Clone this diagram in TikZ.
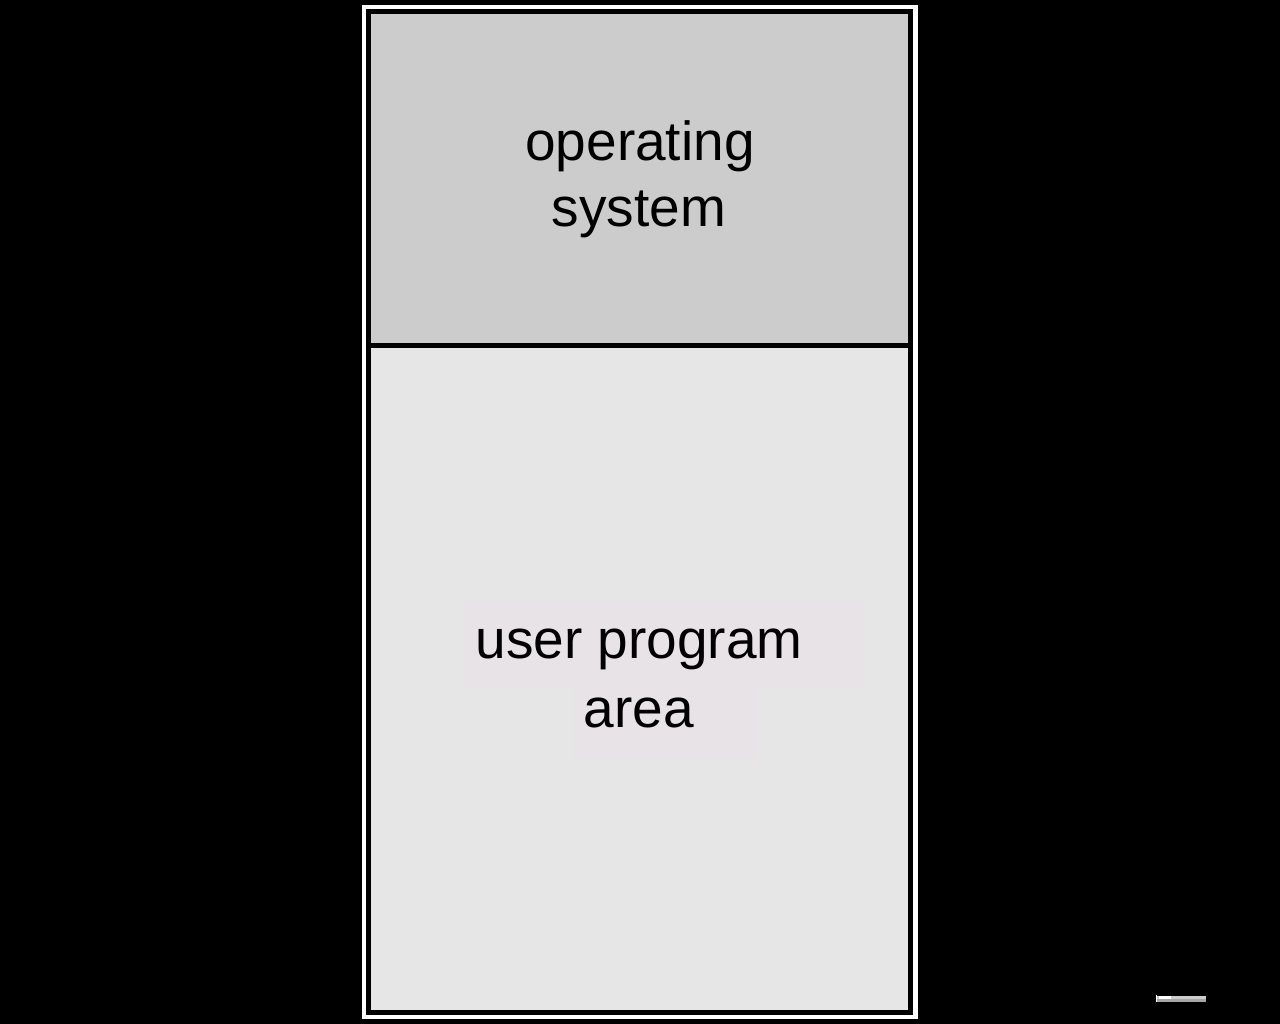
\documentclass[tikz,border=0pt]{standalone}
\usepackage{fontspec}
\setmainfont{Liberation Sans}
\definecolor{osgray}{HTML}{CCCCCC}
\definecolor{usergray}{HTML}{E6E6E6}
\definecolor{patch}{HTML}{E8E3E6}
\begin{document}
\begin{tikzpicture}[x=1pt,y=-1pt,
  region/.style={rectangle,draw=black,line width=5pt,minimum width=542pt,inner sep=0pt,outer sep=0pt},
  lbl/.style={anchor=base,inner sep=0pt,font=\fontsize{55}{66}\selectfont}]
		\fill[black] (0,0) rectangle (1280,1024);
		\useasboundingbox (0,0) rectangle (1280,1024);
		\fill[white] (362,5) rectangle (918,1019);
		\node at (639.5,679) [region, fill=usergray, minimum height=667pt] (U) {};
		\node at (639.5,178.75) [region, fill=osgray, minimum height=333.5pt] (OS) {};
		\fill[patch] (465,600) rectangle (865,689);
		\fill[patch] (574,689) rectangle (758,760);
		\node at (640,161) [lbl] (os1) {operating};
		\node at (639,227) [lbl] (os2) {system};
		\node at (639,658) [lbl] (up1) {user program};
		\node at (639,727) [lbl] (up2) {area};
		\fill[gray!40] (1157,996) rectangle (1206,999);
		\fill[gray!70] (1157,999) rectangle (1206,1002);
		\fill[white] (1155.5,995) rectangle (1157,1001.5);
		\fill[white] (1159,996) rectangle (1171,998.5);
		\end{tikzpicture}
\end{document}
